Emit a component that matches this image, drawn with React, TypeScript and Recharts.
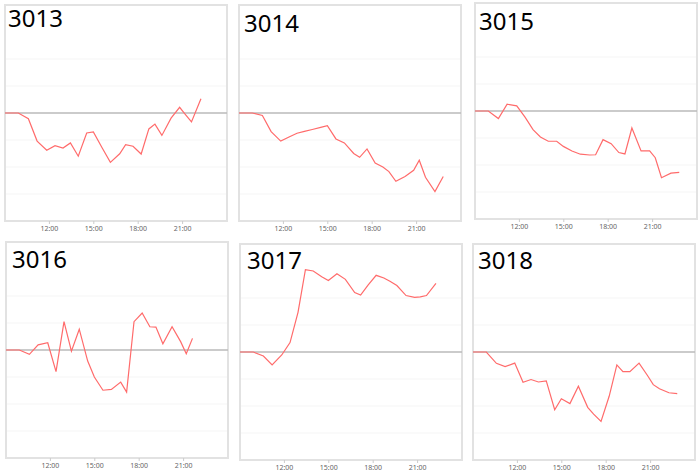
import { LineChart, Line, XAxis, YAxis, CartesianGrid, ReferenceLine, ReferenceArea } from "recharts";

// sample times (hours of day) shared by every station
const hours = [9.0, 9.9, 10.58, 11.17, 11.82, 12.38, 12.92, 13.42, 13.95, 14.52, 14.97, 15.55, 16.12, 16.75, 17.15, 17.65, 18.2, 18.72, 19.13, 19.6, 20.22, 20.8, 21.18, 21.6, 22.24, 22.8];

const s3013 = [0, 0, -0.21, -1.04, -1.38, -1.21, -1.3, -1.11, -1.6, -0.74, -0.7, -1.28, -1.83, -1.51, -1.17, -1.23, -1.52, -0.59, -0.41, -0.83, -0.19, 0.21, -0.05, -0.33, 0.53, null];
const s3014 = [0, 0, -0.09, -0.69, -1.04, -0.89, -0.75, -0.68, -0.61, -0.53, -0.47, -0.96, -1.11, -1.5, -1.64, -1.33, -1.85, -2.0, -2.17, -2.53, -2.35, -2.12, -1.75, -2.38, -2.91, -2.35];
const s3015 = [0, 0, -0.28, 0.25, 0.19, -0.23, -0.69, -0.96, -1.12, -1.12, -1.31, -1.48, -1.6, -1.63, -1.62, -1.06, -1.21, -1.54, -1.59, -0.63, -1.48, -1.48, -1.73, -2.47, -2.3, -2.27];
const s3016 = [0, 0, -0.16, 0.19, 0.27, -0.8, 1.05, -0.04, 0.77, -0.41, -1.0, -1.49, -1.46, -1.19, -1.56, 1.05, 1.37, 0.86, 0.85, 0.23, 0.86, 0.31, -0.14, 0.43, null, null];
const s3017 = [0, 0, -0.15, -0.48, -0.11, 0.35, 1.47, 3.05, 3.0, 2.79, 2.65, 2.9, 2.69, 2.2, 2.11, 2.48, 2.84, 2.74, 2.62, 2.46, 2.09, 2.02, 2.04, 2.09, 2.54, null];
const s3018 = [0, 0, -0.42, -0.54, -0.41, -1.12, -1.02, -1.11, -1.07, -2.14, -1.73, -1.91, -1.27, -2.05, -2.3, -2.57, -1.64, -0.48, -0.73, -0.73, -0.41, -0.88, -1.21, -1.36, -1.51, -1.54];

const stations = ["3013", "3014", "3015", "3016", "3017", "3018"];
const series = [s3013, s3014, s3015, s3016, s3017, s3018];

const xTicks = [12, 15, 18, 21];
const yTicks = [-4, -3, -2, -1, 0, 1, 2, 3, 4];

// plot-area origin of each panel and where its title sits
const layout = [
  { left: 5, top: 5, tLeft: 8, tTop: 6 },
  { left: 239, top: 5, tLeft: 244, tTop: 11 },
  { left: 475, top: 3, tLeft: 479, tTop: 9 },
  { left: 6, top: 242, tLeft: 12, tTop: 247 },
  { left: 240, top: 244, tLeft: 247, tTop: 248 },
  { left: 473, top: 244, tLeft: 478, tTop: 248 },
];

function Panel({ idx }: { idx: number }) {
  const pos = layout[idx];
  const data = hours.map((h, i) => ({ h, v: series[idx][i] }));
  return (
    <>
      <div style={{ position: "absolute", left: pos.left - 1, top: pos.top - 1 }}>
        <LineChart width={224} height={233} data={data} margin={{ top: 1, right: 1, bottom: 0, left: 1 }}>
          <CartesianGrid horizontal vertical={false} stroke="#f5f5f5" />
          <XAxis
            dataKey="h"
            type="number"
            domain={[9, 24]}
            ticks={xTicks}
            tickFormatter={(h) => `${h}:00`}
            height={16}
            tick={{ fontSize: 7, fill: "#666" }}
            tickSize={3}
            axisLine={false}
            tickLine={{ stroke: "#ccc" }}
          />
          <YAxis hide type="number" domain={[-4, 4]} ticks={yTicks} />
          <ReferenceArea x1={9} x2={24} y1={-4} y2={4} fill="none" stroke="#e2e2e2" strokeWidth={2} />
          <ReferenceLine y={0} stroke="#bbb" strokeWidth={1.5} />
          <Line
            dataKey="v"
            type="linear"
            stroke="#ff6b6b"
            strokeWidth={1.2}
            dot={false}
            isAnimationActive={false}
          />
        </LineChart>
      </div>
      <div
        style={{
          position: "absolute",
          left: pos.tLeft,
          top: pos.tTop,
          fontSize: 24,
          lineHeight: "24px",
          color: "#000",
        }}
      >
        {stations[idx]}
      </div>
    </>
  );
}

export default function App() {
  return (
    <div
      style={{
        position: "absolute",
        left: 0,
        top: 0,
        width: 700,
        height: 475,
        background: "#fff",
        fontFamily: "'Noto Sans', sans-serif",
      }}
    >
      {stations.map((_, i) => (
        <Panel key={i} idx={i} />
      ))}
    </div>
  );
}
